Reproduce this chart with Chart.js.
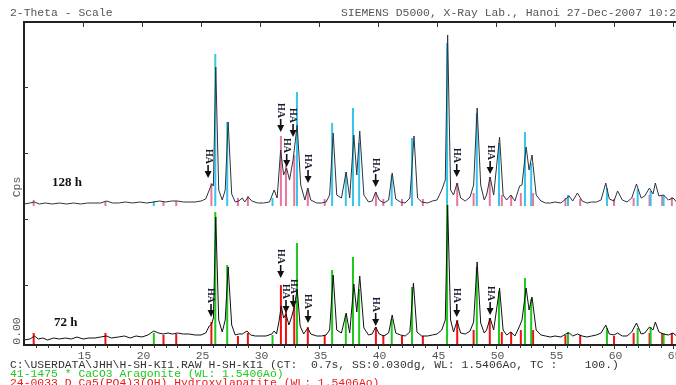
<!DOCTYPE html>
<html>
<head>
<meta charset="utf-8">
<script src="https://cdn.jsdelivr.net/npm/chart.js@4/dist/chart.umd.min.js"></script>
<style>
  body { margin: 0; background: #fff; }
  canvas { display: block; }
</style>
</head>
<body>
<canvas id="xrd" width="676" height="385"></canvas>
<script>
// 2-theta positions (deg) and counts for the 72 h scan
const theta72 = [10.0,10.5,10.9,11.2,11.6,12.0,12.5,13.0,13.5,14.0,14.5,15.0,15.5,16.0,16.5,17.0,17.4,18.0,18.5,19.0,19.5,20.0,20.5,21.0,21.4,21.8,22.2,22.6,23.0,23.5,24.0,24.5,25.0,25.4,25.7,25.9,26.05,26.25,26.5,26.8,27.05,27.3,27.6,27.9,28.2,28.5,28.9,29.2,29.6,30.0,30.5,31.0,31.2,31.4,31.6,31.8,32.0,32.2,32.45,32.7,32.9,33.15,33.4,33.7,34.05,34.3,34.8,35.2,35.6,35.9,36.2,36.5,36.9,37.3,37.6,37.95,38.2,38.45,38.8,39.2,39.5,39.8,40.1,40.5,40.9,41.2,41.5,41.9,42.3,42.7,43.0,43.3,43.7,44.2,44.6,45.0,45.4,45.7,45.9,46.15,46.4,46.7,47.0,47.4,47.8,48.1,48.4,48.7,49.0,49.2,49.5,49.8,50.3,50.6,50.9,51.25,51.6,52.0,52.2,52.55,52.8,53.05,53.4,53.8,54.2,54.6,55.0,55.5,55.9,56.2,56.5,56.9,57.3,57.7,58.1,58.5,58.9,59.3,59.6,60.0,60.3,60.7,61.1,61.5,61.9,62.3,62.6,63.0,63.3,63.5,63.8,64.2,64.6,65.0,65.3];
const counts72 = [-1,0,3,0,1,-1,1,0,1,0,2,0,1,1,2,3,1,2,3,1,3,2,4,8,6,5,6,5,6,5,5,4,4,6,13,15,21,122,19,7,19,72,14,4,5,5,8,4,3,3,3,5,8,5,17,33,21,25,14,23,32,50,13,5,11,5,3,3,4,9,64,9,6,26,6,55,27,63,11,4,5,12,5,3,6,24,6,4,3,7,56,7,3,3,4,5,9,19,134,19,7,18,6,5,8,17,77,16,6,9,21,9,51,9,4,7,3,13,19,51,29,42,9,4,3,2,3,2,5,6,3,5,3,2,3,4,6,14,5,4,6,3,3,7,16,5,6,12,9,17,7,5,4,6,3];

// 128 h scan
const theta128 = [10.0,10.5,10.9,11.3,11.8,12.4,13.0,13.6,14.2,14.8,15.4,16.0,16.5,17.0,17.5,18.0,18.6,19.2,19.8,20.4,21.0,21.5,22.0,22.5,23.0,23.5,24.0,24.5,25.0,25.4,25.7,25.9,26.05,26.25,26.5,26.8,27.05,27.3,27.6,27.9,28.2,28.5,28.7,29.0,29.3,29.8,30.3,30.8,31.2,31.45,31.75,32.0,32.25,32.5,32.8,33.15,33.45,33.8,34.05,34.3,34.8,35.2,35.6,35.9,36.2,36.5,36.9,37.3,37.6,37.95,38.2,38.45,38.8,39.2,39.5,39.8,40.1,40.5,40.9,41.2,41.5,41.9,42.3,42.7,43.05,43.35,43.7,44.2,44.6,45.0,45.4,45.7,45.9,46.15,46.4,46.7,47.0,47.4,47.8,48.1,48.4,48.7,49.0,49.2,49.5,49.8,50.3,50.6,50.9,51.25,51.6,52.0,52.2,52.55,52.8,53.05,53.4,53.8,54.2,54.6,55.0,55.5,55.9,56.2,56.5,56.9,57.3,57.7,58.1,58.5,58.9,59.3,59.6,60.0,60.3,60.7,61.1,61.5,61.9,62.3,62.6,63.0,63.3,63.5,63.8,64.2,64.6,65.0,65.3];
const counts128 = [-1,0,1,-1,0,-1,0,-1,0,-1,0,0,0,2,0,0,1,0,1,0,1,2,1,2,2,1,1,1,2,4,13,19,17,136,13,3,13,81,9,1,2,5,1,6,2,0,0,1,13,5,53,28,35,23,43,78,18,3,15,3,0,0,1,8,70,8,5,31,5,68,28,72,8,1,2,11,3,0,3,30,4,1,0,5,67,5,1,0,2,3,13,23,168,13,8,20,5,2,6,18,95,18,3,8,26,8,66,8,3,8,2,17,18,56,33,48,8,2,0,0,1,0,4,7,2,10,2,0,1,1,3,20,4,2,12,3,1,5,19,5,7,15,9,20,7,8,3,5,1];

// reference sticks: 41-1475 aragonite (CaCO3)
const aragPos = [21.0,26.21,27.22,31.06,33.13,36.11,37.27,37.88,38.40,41.16,42.88,45.85,48.37,50.25,52.45,52.98,56.1,59.4,62.0,63.1,64.2];
const aragTop128 = [2,149,81,5,111,80,31,95,60,28,65,160,90,60,71,40,8,15,14,12,8];
const aragTop72 = [6,127,74,4,96,69,24,82,50,20,52,134,72,48,61,40,7,11,11,12,6];

// reference sticks: 24-0033 hydroxylapatite
const haPos = [10.82,16.9,21.82,22.9,25.88,28.13,28.97,31.77,32.20,32.90,34.05,35.48,39.82,40.45,42.03,43.80,46.71,48.10,49.47,50.49,51.28,52.10,53.14,55.88,57.13,60.0,61.66,63.01,64.08,64.9];
const haTop128 = [3,2,2,2,20,5,7,67,38,48,15,4,11,4,4,4,20,10,26,8,8,10,10,5,4,4,5,8,8,6];
const haTop72 = [6,6,4,5,17,3,6,54,28,35,12,4,12,4,3,3,19,9,21,7,7,9,9,4,4,3,6,6,6,6];

// "HA" markers: 2-theta and arrow tip counts
const markTheta128 = [25.6,31.75,32.26,32.8,34.07,39.8,46.67,49.5];
const markTip128 = [25,71,36,66,20,16,26,29];
const markTheta72 = [25.85,31.75,32.2,32.82,34.07,39.8,46.67,49.5];
const markTip72 = [22,61,26,31,16,13,22,24];

const xTicks = [15,20,25,30,35,40,45,50,55,60,65];
const yTicks = [252,186,120,54];

const OFFSET128 = 136; // vertical shift of the 128 h pattern

function trace(th, c, off) {
  return th.map((t, i) => ({ x: t, y: c[i] + off }));
}

function sticks(pos, tops, base, off) {
  const out = [];
  pos.forEach((p, i) => {
    out.push({ x: p, y: base + off }, { x: p, y: tops[i] + off }, { x: p, y: null });
  });
  return out;
}

const mono = '"Liberation Mono", "DejaVu Sans Mono", monospace';

// plotter style text: 10px mono stretched a bit wider
function plotText(ctx, str, x, y, color, align) {
  ctx.save();
  ctx.font = '10px ' + mono;
  ctx.fillStyle = color;
  ctx.textAlign = align || 'left';
  ctx.textBaseline = 'middle';
  ctx.translate(x, y);
  ctx.scale(1.14, 1);
  ctx.fillText(str, 0, 0);
  ctx.restore();
}

const decorations = {
  id: 'decorations',
  afterDraw(chart) {
    const ctx = chart.ctx;
    const xs = chart.scales.x, ys = chart.scales.y;
    const a = chart.chartArea;
    ctx.save();

    // frame
    ctx.strokeStyle = '#222';
    ctx.lineWidth = 2;
    ctx.beginPath();
    ctx.moveTo(a.right, a.top);
    ctx.lineTo(a.left, a.top);
    ctx.lineTo(a.left, a.bottom);
    ctx.lineTo(a.right, a.bottom);
    ctx.stroke();

    // x ticks
    ctx.lineWidth = 1;
    ctx.strokeStyle = '#333';
    for (let d = 11; d <= 65; d++) {
      const px = Math.round(xs.getPixelForValue(d)) + 0.5;
      ctx.beginPath();
      ctx.moveTo(px, a.bottom);
      ctx.lineTo(px, a.bottom + (d % 5 === 0 ? 4 : 3));
      ctx.stroke();
    }
    xTicks.forEach(d => {
      const px = Math.round(xs.getPixelForValue(d)) + 0.5;
      ctx.beginPath();
      ctx.moveTo(px, a.top);
      ctx.lineTo(px, a.top + 5);
      ctx.stroke();
      plotText(ctx, String(d), px + 1, a.bottom + 11, '#555', 'center');
    });

    // y ticks
    yTicks.forEach(v => {
      const py = Math.round(ys.getPixelForValue(v)) + 0.5;
      ctx.beginPath();
      ctx.moveTo(a.left, py);
      ctx.lineTo(a.left + 4, py);
      ctx.stroke();
    });

    // header & footer text
    plotText(ctx, '2-Theta - Scale', 10, 13, '#555');
    plotText(ctx, 'SIEMENS D5000, X-Ray Lab., Hanoi 27-Dec-2007 10:21', 341, 13, '#555');
    plotText(ctx, 'C:\\USERDATA\\JHH\\H-SH-KI1.RAW H-SH-KI1 (CT:  0.7s, SS:0.030dg, WL: 1.5406Ao, TC :    100.)', 10, 365, '#333');
    plotText(ctx, '41-1475 * CaCO3 Aragonite (WL: 1.5406Ao)', 10, 374.5, '#1ec81e');
    plotText(ctx, '24-0033 D Ca5(PO4)3(OH) Hydroxylapatite (WL: 1.5406Ao)', 10, 383.5, '#f01818');

    // rotated y labels
    ctx.save();
    ctx.translate(17, 187);
    ctx.rotate(-Math.PI / 2);
    plotText(ctx, 'Cps', 0, 0, '#555', 'center');
    ctx.restore();
    ctx.save();
    ctx.translate(17, 331);
    ctx.rotate(-Math.PI / 2);
    plotText(ctx, '0.00', 0, 0, '#555', 'center');
    ctx.restore();

    // sample labels
    ctx.fillStyle = '#111';
    ctx.font = 'bold 13px "Liberation Serif", serif';
    ctx.textAlign = 'left';
    ctx.textBaseline = 'middle';
    ctx.fillText('128 h', 52, 183);
    ctx.fillText('72 h', 54, 323);

    // HA markers
    const drawMark = (t, tip, off) => {
      const px = xs.getPixelForValue(t);
      const py = ys.getPixelForValue(tip + off);
      ctx.fillStyle = '#111';
      ctx.strokeStyle = '#111';
      ctx.lineWidth = 1.6;
      ctx.beginPath();
      ctx.moveTo(px, py - 6);
      ctx.lineTo(px, py - 13);
      ctx.stroke();
      ctx.beginPath();
      ctx.moveTo(px - 3.5, py - 7);
      ctx.lineTo(px + 3.5, py - 7);
      ctx.lineTo(px, py);
      ctx.closePath();
      ctx.fill();
      ctx.save();
      ctx.translate(px, py - 29);
      ctx.rotate(Math.PI / 2);
      ctx.font = 'bold 10px "Liberation Serif", serif';
      ctx.textAlign = 'left';
      ctx.textBaseline = 'middle';
      ctx.fillStyle = '#1a1a30';
      ctx.fillText('HA', 0, 0);
      ctx.restore();
    };
    markTheta128.forEach((t, i) => drawMark(t, markTip128[i], OFFSET128));
    markTheta72.forEach((t, i) => drawMark(t, markTip72[i], 0));

    ctx.restore();
  }
};

new Chart(document.getElementById('xrd').getContext('2d'), {
  type: 'line',
  data: {
    datasets: [
      { data: trace(theta72, counts72, 0), borderColor: '#111', borderWidth: 1, order: 0 },
      { data: trace(theta128, counts128, OFFSET128), borderColor: '#2c3440', borderWidth: 1, order: 0 },
      { data: sticks(aragPos, aragTop72, -6, 0), borderColor: '#1ec81e', borderWidth: 2, order: 1 },
      { data: sticks(haPos, haTop72, -6, 0), borderColor: '#f01010', borderWidth: 2, order: 1 },
      { data: sticks(aragPos, aragTop128, -3, OFFSET128), borderColor: '#38c6e8', borderWidth: 2, order: 1 },
      { data: sticks(haPos, haTop128, -3, OFFSET128), borderColor: '#e8769e', borderWidth: 2, order: 1 }
    ]
  },
  options: {
    responsive: false,
    devicePixelRatio: 1,
    animation: false,
    spanGaps: false,
    layout: { padding: { left: 24, top: 22, right: 0, bottom: 40 } },
    elements: { point: { radius: 0 }, line: { tension: 0 } },
    plugins: { legend: { display: false }, tooltip: { enabled: false } },
    scales: {
      x: { type: 'linear', min: 10, max: 65.25, display: false },
      y: { type: 'linear', min: -6, max: 317, display: false }
    }
  },
  plugins: [decorations]
});
</script>
</body>
</html>
